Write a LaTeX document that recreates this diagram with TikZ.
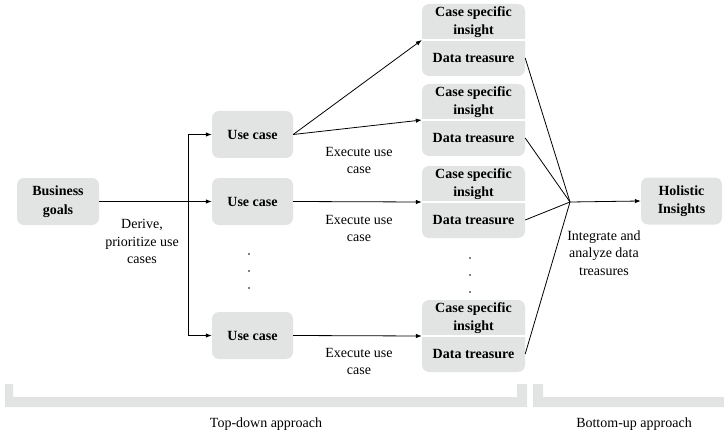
\documentclass[tikz,border=0pt]{standalone}
\usepackage{fontspec}
\setmainfont{Liberation Serif}
\usetikzlibrary{arrows.meta}
\definecolor{boxgray}{RGB}{226,227,227}
\tikzset{
  conn/.style={line width=0.8pt, black},
  arr/.style={conn, -{Latex[length=6pt,width=4.5pt]}},
  box/.style={fill=boxgray, rounded corners=7pt, inner sep=0pt, align=center,
    minimum width=82pt, minimum height=47pt, font=\bfseries\fontsize{14}{18.5}\selectfont},
  stackbox/.style={fill=boxgray, rounded corners=7pt, inner sep=0pt,
    minimum width=103pt, minimum height=72pt},
  stacktext/.style={inner sep=0pt, align=center, minimum width=103pt, minimum height=36pt,
    font=\bfseries\fontsize{14}{18}\selectfont},
  lbl/.style={inner sep=0pt, align=center, font=\fontsize{14}{17.5}\selectfont},
  dotnode/.style={circle, fill=black, inner sep=0pt, minimum size=1.8pt},
}
\begin{document}
\begin{tikzpicture}[x=1pt,y=-1pt]
\useasboundingbox (0,0) rectangle (724,436);

% brackets
\fill[boxgray] (5,384) -- (13,384) -- (13,397) -- (517,397) -- (517,384) -- (527,384) -- (527,407) -- (5,407) -- cycle;
\fill[boxgray] (533,384) -- (543,384) -- (543,397) -- (724,397) -- (724,407) -- (533,407) -- cycle;
\node[lbl] (td) at (266,424) {Top-down approach};
\node[lbl] (bu) at (634,424) {Bottom-up approach};

% left nodes
\node[box] (bg) at (58,201.5) {Business\\goals};
\node[box, minimum width=81pt] (uc1) at (252.5,134.5) {Use case};
\node[box, minimum width=81pt] (uc2) at (252.5,201.5) {Use case};
\node[box, minimum width=81pt] (uc3) at (252.5,335.5) {Use case};

\node[dotnode] (d1) at (249,254) {};
\node[dotnode] (d2) at (249,271) {};
\node[dotnode] (d3) at (249,288) {};

% stacks
\foreach \i/\y in {1/40,2/120,3/202,4/336}{
  \node[stackbox] (s\i) at (473.5,\y) {};
  \draw[white, line width=2pt] (s\i.west) -- (s\i.east);
  \node[stacktext] (ins\i) at (473.5,\y-18) {Case specific\\insight};
  \node[stacktext] (dat\i) at (473.5,\y+18) {Data treasure};
}

\node[dotnode] (e1) at (470,258) {};
\node[dotnode] (e2) at (470,275) {};
\node[dotnode] (e3) at (470,292) {};

\node[box, minimum width=81pt] (ho) at (681.5,201) {Holistic\\Insights};

% connectors
\coordinate (sp) at (188,201.5);
\draw[arr] (bg.east) -- (uc2.west);
\draw[arr] (sp) |- (uc1.west);
\draw[arr] (sp) |- (uc3.west);

\draw[arr] (uc1.east) -- (s1.west);
\draw[arr] (uc1.east) -- (s2.west);
\draw[arr] (uc2.east) -- (s3.west);
\draw[arr] (uc3.east) -- (s4.west);

\coordinate (J) at (570,202);
\foreach \i in {1,2,3,4}{
  \draw[conn] (dat\i.east) -- (J);
}
\draw[arr] (J) -- (ho.west);

% labels
\node[lbl] (l1) at (142,241.5) {Derive,\\prioritize use\\cases};
\node[lbl] (l2) at (359,160.5) {Execute use\\case};
\node[lbl] (l3) at (359,228.5) {Execute use\\case};
\node[lbl] (l4) at (359,361.5) {Execute use\\case};
\node[lbl] (l5) at (604,253) {Integrate and\\analyze data\\treasures};
\end{tikzpicture}
\end{document}
